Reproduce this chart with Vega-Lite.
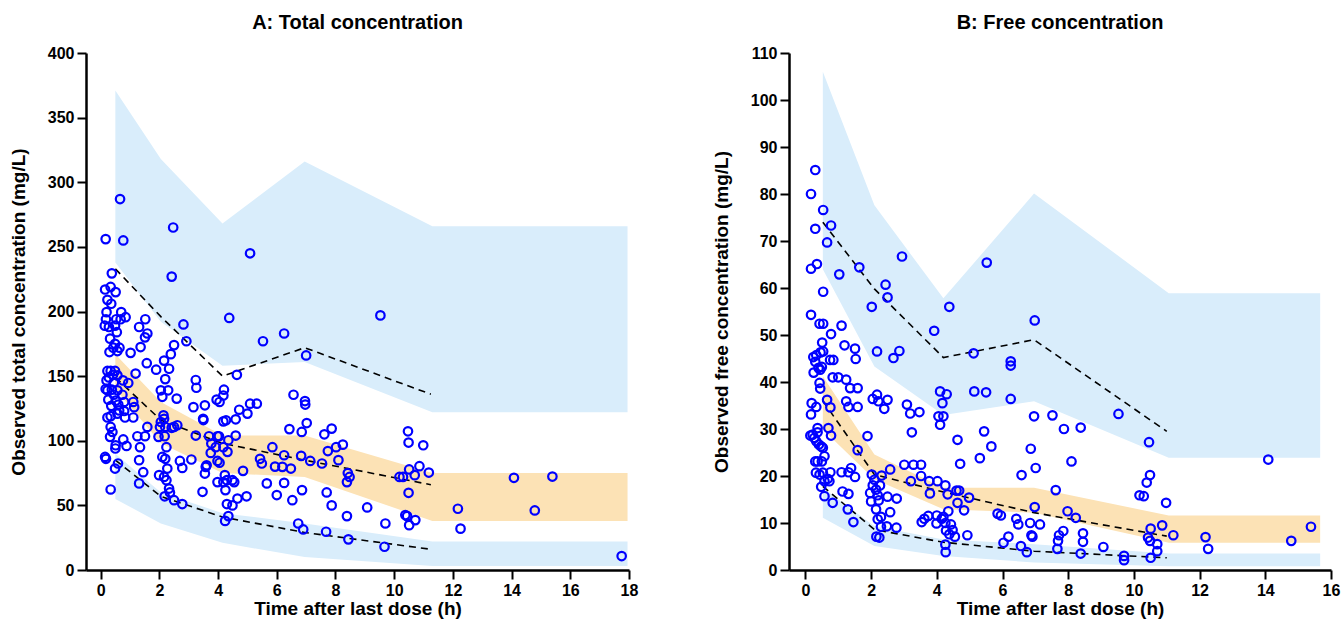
{
"$schema": "https://vega.github.io/schema/vega-lite/v6.json",
"background": "white",
"padding": {"left": 9, "top": 13, "right": 5, "bottom": 5},
"bounds": "flush",
"spacing": 160,
"config": {
 "view": {"stroke": null},
 "font": "Liberation Sans",
 "axis": {"grid": false, "domainColor": "black", "domainWidth": 2.5, "tickColor": "black", "tickWidth": 2, "tickSize": 9, "labelFont": "Liberation Sans", "labelFontSize": 16, "labelFontWeight": "bold", "labelColor": "black", "labelPadding": 3, "labelFlush": false, "labelOverlap": false, "titleFont": "Liberation Sans", "titleFontSize": 19, "titleFontWeight": "bold", "titleColor": "black"},
 "axisY": {"titlePadding": 19},
 "axisX": {"titlePadding": 1},
 "title": {"fontSize": 20, "fontWeight": "bold", "font": "Liberation Sans", "color": "black", "offset": 12, "anchor": "middle"}
},
"datasets": {
 "totalBands": [
  {"band": "upper", "kind": "PI", "x": 0.5, "lo": 238, "hi": 371},
  {"band": "upper", "kind": "PI", "x": 2.05, "lo": 192, "hi": 318},
  {"band": "upper", "kind": "PI", "x": 4.15, "lo": 158, "hi": 268},
  {"band": "upper", "kind": "PI", "x": 6.95, "lo": 161, "hi": 316},
  {"band": "upper", "kind": "PI", "x": 11.3, "lo": 122, "hi": 266},
  {"band": "upper", "kind": "PI", "x": 17.95, "lo": 122, "hi": 266},
  {"band": "mid", "kind": "median", "x": 0.5, "lo": 140, "hi": 167},
  {"band": "mid", "kind": "median", "x": 2.05, "lo": 98, "hi": 130},
  {"band": "mid", "kind": "median", "x": 4.15, "lo": 75, "hi": 104},
  {"band": "mid", "kind": "median", "x": 6.95, "lo": 72, "hi": 104},
  {"band": "mid", "kind": "median", "x": 11.3, "lo": 38, "hi": 75},
  {"band": "mid", "kind": "median", "x": 17.95, "lo": 38, "hi": 75},
  {"band": "lower", "kind": "PI", "x": 0.5, "lo": 55, "hi": 90},
  {"band": "lower", "kind": "PI", "x": 2.05, "lo": 36, "hi": 60},
  {"band": "lower", "kind": "PI", "x": 4.15, "lo": 21, "hi": 44},
  {"band": "lower", "kind": "PI", "x": 6.95, "lo": 10, "hi": 36},
  {"band": "lower", "kind": "PI", "x": 11.3, "lo": 3, "hi": 22},
  {"band": "lower", "kind": "PI", "x": 17.95, "lo": 3, "hi": 22}
 ],
 "totalLines": [
  {"pct": "p95", "x": 0.5, "y": 233}, {"pct": "p95", "x": 2.05, "y": 196}, {"pct": "p95", "x": 4.15, "y": 150}, {"pct": "p95", "x": 6.95, "y": 172}, {"pct": "p95", "x": 11.25, "y": 136},
  {"pct": "p50", "x": 0.5, "y": 149}, {"pct": "p50", "x": 2.05, "y": 116}, {"pct": "p50", "x": 4.15, "y": 98}, {"pct": "p50", "x": 6.95, "y": 85}, {"pct": "p50", "x": 11.25, "y": 66},
  {"pct": "p05", "x": 0.5, "y": 85}, {"pct": "p05", "x": 2.05, "y": 57}, {"pct": "p05", "x": 4.15, "y": 41}, {"pct": "p05", "x": 6.95, "y": 29}, {"pct": "p05", "x": 11.25, "y": 16}
 ],
 "freeBands": [
  {"band": "upper", "kind": "PI", "x": 0.53, "lo": 64, "hi": 106},
  {"band": "upper", "kind": "PI", "x": 2.1, "lo": 43.3, "hi": 77.6},
  {"band": "upper", "kind": "PI", "x": 4.2, "lo": 33, "hi": 57.8},
  {"band": "upper", "kind": "PI", "x": 6.96, "lo": 35.9, "hi": 80.1},
  {"band": "upper", "kind": "PI", "x": 11.06, "lo": 23.9, "hi": 58.9},
  {"band": "upper", "kind": "PI", "x": 15.67, "lo": 23.9, "hi": 58.9},
  {"band": "mid", "kind": "median", "x": 0.53, "lo": 29.9, "hi": 41.2},
  {"band": "mid", "kind": "median", "x": 2.1, "lo": 19.3, "hi": 24.6},
  {"band": "mid", "kind": "median", "x": 4.2, "lo": 12.9, "hi": 17.5},
  {"band": "mid", "kind": "median", "x": 6.96, "lo": 12.2, "hi": 17.5},
  {"band": "mid", "kind": "median", "x": 11.06, "lo": 5.8, "hi": 11.6},
  {"band": "mid", "kind": "median", "x": 15.67, "lo": 5.8, "hi": 11.6},
  {"band": "lower", "kind": "PI", "x": 0.53, "lo": 11.1, "hi": 17.5},
  {"band": "lower", "kind": "PI", "x": 2.1, "lo": 5.1, "hi": 9.3},
  {"band": "lower", "kind": "PI", "x": 4.2, "lo": 3.0, "hi": 6.5},
  {"band": "lower", "kind": "PI", "x": 6.96, "lo": 1.6, "hi": 5.5},
  {"band": "lower", "kind": "PI", "x": 11.06, "lo": 0.8, "hi": 3.5},
  {"band": "lower", "kind": "PI", "x": 15.67, "lo": 0.8, "hi": 3.5}
 ],
 "freeLines": [
  {"pct": "p95", "x": 0.53, "y": 74}, {"pct": "p95", "x": 2.1, "y": 59.8}, {"pct": "p95", "x": 4.2, "y": 45.2}, {"pct": "p95", "x": 6.96, "y": 49}, {"pct": "p95", "x": 11.0, "y": 29.5},
  {"pct": "p50", "x": 0.53, "y": 36}, {"pct": "p50", "x": 2.1, "y": 20.3}, {"pct": "p50", "x": 4.2, "y": 16.6}, {"pct": "p50", "x": 6.96, "y": 12.2}, {"pct": "p50", "x": 11.0, "y": 7.2},
  {"pct": "p05", "x": 0.53, "y": 17.8}, {"pct": "p05", "x": 2.1, "y": 8.6}, {"pct": "p05", "x": 4.2, "y": 5.9}, {"pct": "p05", "x": 6.96, "y": 4.0}, {"pct": "p05", "x": 11.0, "y": 2.6}
 ],
 "totalPts": [
  {"x":0.17,"y":256},{"x":0.66,"y":287},{"x":0.77,"y":255},{"x":2.47,"y":265},{"x":2.42,"y":227},{"x":5.09,"y":245},{"x":0.38,"y":229.5},{"x":0.15,"y":217},{"x":0.34,"y":219},{"x":0.51,"y":215},{"x":0.23,"y":209},{"x":0.36,"y":206},
  {"x":0.2,"y":199.5},{"x":0.18,"y":194},{"x":0.14,"y":189},{"x":0.28,"y":188},{"x":0.49,"y":189},{"x":0.53,"y":194},{"x":0.7,"y":199.5},{"x":0.68,"y":194},{"x":0.85,"y":195.6},{"x":0.55,"y":184},{"x":0.32,"y":179},{"x":0.49,"y":175},{"x":0.43,"y":172},{"x":0.64,"y":172},{"x":0.3,"y":168.6},{"x":0.57,"y":169.4},{"x":1.02,"y":168},{"x":0.23,"y":154},{"x":0.34,"y":154},{"x":0.49,"y":154},{"x":0.42,"y":151},{"x":0.28,"y":149},{"x":0.57,"y":150.6},{"x":0.2,"y":146.7},{"x":0.45,"y":145},{"x":0.76,"y":146.7},{"x":0.94,"y":144.7},{"x":0.23,"y":139},{"x":0.38,"y":139.5},{"x":0.57,"y":139},{"x":0.17,"y":140},{"x":0.45,"y":135.6},{"x":0.74,"y":135.6},{"x":0.26,"y":131.8},{"x":0.51,"y":131},{"x":0.8,"y":130},{"x":0.36,"y":127},{"x":0.6,"y":128},{"x":1.11,"y":130},{"x":0.63,"y":123.5},{"x":0.8,"y":123},{"x":0.57,"y":121},{"x":0.23,"y":118},{"x":0.34,"y":119},{"x":0.83,"y":118},{"x":1.11,"y":118},{"x":0.34,"y":110.7},{"x":0.4,"y":106.8},{"x":0.32,"y":103},{"x":0.51,"y":96.5},{"x":0.5,"y":94},{"x":0.77,"y":101},{"x":0.88,"y":96},{"x":0.15,"y":87.5},{"x":0.18,"y":86},{"x":0.59,"y":82.4},{"x":0.49,"y":78.5},{"x":0.34,"y":62.3},
  {"x":1.31,"y":188},{"x":1.52,"y":194},{"x":1.51,"y":180},{"x":1.59,"y":183},{"x":1.36,"y":172.5},{"x":1.57,"y":160},{"x":1.89,"y":155},{"x":1.19,"y":152},{"x":1.25,"y":103.5},{"x":1.51,"y":103.5},{"x":1.34,"y":95},{"x":1.31,"y":85},{"x":1.45,"y":75.7},{"x":1.31,"y":67},{"x":1.59,"y":110.7},{"x":1.14,"y":126},
  {"x":1.97,"y":103},{"x":2.02,"y":110.7},{"x":2.05,"y":114.5},{"x":2.14,"y":119.7},{"x":2.16,"y":117},{"x":2.18,"y":103.5},{"x":2.2,"y":110.7},{"x":2.24,"y":95},{"x":2.1,"y":87.5},{"x":2.2,"y":86},{"x":2.27,"y":78.5},{"x":1.99,"y":73.4},{"x":2.16,"y":72},{"x":2.24,"y":69.5},{"x":2.33,"y":63},{"x":2.36,"y":60},{"x":2.18,"y":57},{"x":2.5,"y":54},{"x":2.78,"y":51},{"x":2.05,"y":139},{"x":2.3,"y":139},{"x":2.1,"y":134},{"x":2.2,"y":147.7},{"x":2.16,"y":162},{"x":2.33,"y":155.7},{"x":2.39,"y":167},{"x":2.5,"y":174},{"x":2.82,"y":190},{"x":2.92,"y":177},{"x":2.59,"y":132.6},{"x":2.5,"y":110.7},{"x":2.61,"y":112},{"x":2.42,"y":110},{"x":2.7,"y":84.4},{"x":2.78,"y":79},{"x":3.09,"y":85.5},
  {"x":3.16,"y":126},{"x":3.24,"y":147},{"x":3.26,"y":141},{"x":3.55,"y":127.4},{"x":3.49,"y":117},{"x":3.5,"y":116},{"x":3.24,"y":104},{"x":3.47,"y":60.5},{"x":3.55,"y":74.6},{"x":3.58,"y":79.8},{"x":3.61,"y":81},{"x":3.69,"y":103.5},{"x":3.77,"y":97.8},{"x":3.75,"y":90.6},{"x":3.92,"y":95},{"x":3.98,"y":103.5},{"x":4.03,"y":103.5},{"x":3.98,"y":84.4},{"x":4.05,"y":83},{"x":3.98,"y":68},{"x":4.18,"y":95},{"x":4.32,"y":91.4},{"x":4.35,"y":100.4},{"x":4.18,"y":68},{"x":4.23,"y":73.4},{"x":4.25,"y":61.8},{"x":4.3,"y":69.5},{"x":4.49,"y":69.5},{"x":4.55,"y":68},{"x":4.3,"y":51},{"x":4.49,"y":50},{"x":4.24,"y":38},{"x":4.35,"y":41.7},{"x":3.95,"y":131.8},{"x":4.05,"y":130},{"x":4.18,"y":135},{"x":4.2,"y":139.5},{"x":4.18,"y":115},{"x":4.27,"y":115.8},{"x":4.6,"y":104},{"x":4.64,"y":151},{"x":4.38,"y":195},{"x":4.72,"y":124},{"x":4.6,"y":116.6},{"x":4.66,"y":55.3},{"x":4.85,"y":76.7},{"x":4.97,"y":57},{"x":5.0,"y":121},{"x":5.09,"y":128.7},{"x":5.32,"y":128.7},{"x":5.53,"y":177},{"x":5.43,"y":86},{"x":5.49,"y":82.4},{"x":5.66,"y":67},{"x":5.85,"y":95},{"x":5.94,"y":80},{"x":6.0,"y":58},{"x":6.19,"y":79.8},{"x":6.25,"y":88.8},{"x":6.25,"y":67.4},{"x":6.25,"y":183},{"x":6.48,"y":78.5},{"x":6.53,"y":54},{"x":6.57,"y":135.6},{"x":6.43,"y":109},
  {"x":7.0,"y":166},{"x":6.96,"y":130.7},{"x":6.97,"y":128},{"x":7.02,"y":113.7},{"x":6.85,"y":106.8},{"x":6.83,"y":88.3},{"x":7.14,"y":84.4},{"x":6.86,"y":61.8},{"x":6.73,"y":36},{"x":6.9,"y":31.4},{"x":7.62,"y":105},{"x":7.87,"y":109.4},{"x":7.74,"y":92},{"x":8.02,"y":95},{"x":8.25,"y":97},{"x":8.1,"y":85},{"x":7.54,"y":82.4},{"x":7.7,"y":60},{"x":7.87,"y":50},{"x":7.68,"y":29.6},{"x":8.42,"y":75},{"x":8.48,"y":72},{"x":8.39,"y":68},{"x":8.39,"y":41.7},{"x":8.44,"y":23.7},
  {"x":9.53,"y":197},{"x":9.08,"y":48.4},{"x":9.7,"y":36},{"x":9.67,"y":18},{"x":10.47,"y":107.3},{"x":10.49,"y":98.6},{"x":10.99,"y":96.5},{"x":10.86,"y":80.3},{"x":11.18,"y":75.4},{"x":10.51,"y":77.8},{"x":10.7,"y":73.4},{"x":10.18,"y":72},{"x":10.3,"y":72},{"x":10.49,"y":59.7},{"x":10.38,"y":42.5},{"x":10.44,"y":41.7},{"x":10.72,"y":38.6},{"x":10.51,"y":34.7},{"x":12.17,"y":47.4},{"x":12.26,"y":32},{"x":14.08,"y":71.3},{"x":14.79,"y":46.1},{"x":15.39,"y":72.3},{"x":17.75,"y":10.8}
 ],
 "freePts": [
  {"x":0.3,"y":85.1},{"x":0.17,"y":80},{"x":0.54,"y":76.6},{"x":0.3,"y":72.6},{"x":0.78,"y":73.3},{"x":0.66,"y":69.7},{"x":0.17,"y":64.1},{"x":0.35,"y":65.1},{"x":1.03,"y":62.9},{"x":1.64,"y":64.4},{"x":2.94,"y":66.7},{"x":5.52,"y":65.4},{"x":2.44,"y":60.7},{"x":2.5,"y":58},{"x":0.54,"y":59.2},{"x":2.02,"y":56},{"x":4.38,"y":56},
  {"x":0.17,"y":54.3},{"x":0.43,"y":52.4},{"x":0.54,"y":52.4},{"x":1.1,"y":52},{"x":0.78,"y":50.2},{"x":0.51,"y":48.4},{"x":1.19,"y":47.8},{"x":1.51,"y":47.1},{"x":1.53,"y":44.9},{"x":2.18,"y":46.5},{"x":2.68,"y":45.1},{"x":2.86,"y":46.6},{"x":3.92,"y":50.9},{"x":5.12,"y":46.1},{"x":6.98,"y":53.1},{"x":6.25,"y":44.4},{"x":6.25,"y":43.5},{"x":6.25,"y":36.4},{"x":5.14,"y":38},{"x":5.5,"y":37.8},{"x":4.1,"y":38},{"x":4.3,"y":37.4},{"x":4.17,"y":35.5},{"x":4.05,"y":32.7},{"x":4.2,"y":32.7},{"x":4.1,"y":30.9},{"x":6.96,"y":32.7},{"x":4.63,"y":27.7},{"x":5.44,"y":29.5},{"x":4.71,"y":22.6},{"x":5.31,"y":23.8},{"x":5.66,"y":26.3},{"x":6.86,"y":25.8},{"x":7.01,"y":21.7},{"x":6.58,"y":20.2},
  {"x":0.24,"y":45.3},{"x":0.33,"y":45.7},{"x":0.46,"y":46.3},{"x":0.54,"y":46.5},{"x":0.3,"y":44.3},{"x":0.4,"y":43},{"x":0.5,"y":43.2},{"x":0.25,"y":42},{"x":0.45,"y":42.6},{"x":0.43,"y":39.8},{"x":0.45,"y":38.6},{"x":0.75,"y":44.7},{"x":0.85,"y":44.7},{"x":0.83,"y":41},{"x":1.0,"y":41},{"x":0.19,"y":35.5},{"x":0.33,"y":34.7},{"x":0.17,"y":33.1},{"x":0.66,"y":36.2},{"x":0.76,"y":34.6},{"x":0.7,"y":30.2},{"x":0.37,"y":30.2},{"x":0.37,"y":29.3},{"x":0.15,"y":28.6},{"x":0.22,"y":28.8},{"x":0.27,"y":28.1},{"x":0.33,"y":27.4},{"x":0.41,"y":26.7},{"x":0.48,"y":26.3},{"x":0.53,"y":26},{"x":0.78,"y":28.6},{"x":0.3,"y":23.1},{"x":0.37,"y":23.1},{"x":0.5,"y":23.1},{"x":0.58,"y":24.2},{"x":0.32,"y":20.7},{"x":0.43,"y":20.3},{"x":0.53,"y":20.7},{"x":0.76,"y":20.8},{"x":0.68,"y":19.4},{"x":0.58,"y":18.9},{"x":0.73,"y":18.9},{"x":0.48,"y":17.7},{"x":0.58,"y":15.7},{"x":0.83,"y":14.3},
  {"x":1.24,"y":40.5},{"x":1.24,"y":35.9},{"x":1.31,"y":34.7},{"x":1.59,"y":38.7},{"x":1.36,"y":38.7},{"x":1.59,"y":34.7},{"x":1.1,"y":20.8},{"x":1.31,"y":20.8},{"x":1.39,"y":21.7},{"x":1.51,"y":19.8},{"x":1.13,"y":16.7},{"x":1.31,"y":16.2},{"x":1.29,"y":12.9},{"x":1.46,"y":10.2},{"x":1.89,"y":28.5},{"x":1.59,"y":25.5},{"x":2.02,"y":20.3},{"x":1.97,"y":16.4},{"x":2.0,"y":14.6},{"x":2.05,"y":18},{"x":2.1,"y":19.2},{"x":2.15,"y":17.1},{"x":2.27,"y":18},{"x":2.32,"y":20.1},{"x":2.2,"y":15.9},{"x":2.23,"y":14.8},{"x":2.15,"y":12.9},{"x":2.2,"y":10.8},{"x":2.3,"y":11.3},{"x":2.16,"y":7.1},{"x":2.25,"y":6.9},{"x":2.3,"y":9.2},{"x":2.48,"y":9.3},{"x":2.58,"y":12.3},{"x":2.5,"y":15.6},{"x":2.78,"y":15.2},{"x":2.58,"y":21.4},{"x":2.77,"y":9.0},{"x":3.09,"y":35.2},{"x":3.19,"y":33.3},{"x":3.47,"y":33.6},{"x":3.24,"y":29.3},{"x":3.01,"y":22.4},{"x":3.29,"y":22.4},{"x":3.52,"y":22.4},{"x":3.21,"y":18.9},{"x":3.52,"y":20},{"x":3.77,"y":18.9},{"x":3.79,"y":16.3},{"x":4.02,"y":18.9},{"x":4.26,"y":18},{"x":4.33,"y":16.1},{"x":4.6,"y":16.9},{"x":4.68,"y":16.9},{"x":4.98,"y":15.4},{"x":4.63,"y":14.3},{"x":4.83,"y":12.7},{"x":3.54,"y":10.2},{"x":3.62,"y":10.9},{"x":3.74,"y":11.5},{"x":4.0,"y":11.6},{"x":4.2,"y":11.3},{"x":4.35,"y":12.5},{"x":4.15,"y":10.9},{"x":4.26,"y":10},{"x":4.43,"y":9.7},{"x":3.99,"y":9.9},{"x":4.28,"y":8.4},{"x":4.48,"y":8.5},{"x":4.38,"y":7.6},{"x":4.55,"y":7.1},{"x":4.26,"y":5.4},{"x":4.27,"y":3.8},{"x":4.93,"y":7.4},{"x":5.85,"y":12},{"x":5.95,"y":11.6},{"x":6.42,"y":10.9},{"x":6.48,"y":9.7},{"x":6.03,"y":5.8},{"x":6.18,"y":7.1},{"x":6.56,"y":5.1},{"x":6.74,"y":3.8},{"x":6.84,"y":10},{"x":6.88,"y":7.4},{"x":6.91,"y":7.1},{"x":7.14,"y":9.7},{"x":6.98,"y":13.4},
  {"x":2.05,"y":36.4},{"x":2.18,"y":37.3},{"x":2.22,"y":35.9},{"x":2.4,"y":34.3},{"x":2.5,"y":36.2},
  {"x":7.52,"y":32.9},{"x":7.87,"y":30.0},{"x":8.38,"y":30.3},{"x":9.53,"y":33.2},{"x":10.46,"y":27.2},{"x":8.1,"y":23.1},{"x":10.49,"y":20.2},{"x":10.39,"y":18.6},{"x":10.17,"y":15.9},{"x":10.3,"y":15.7},{"x":10.98,"y":14.3},{"x":7.62,"y":17},{"x":7.98,"y":12.5},{"x":8.23,"y":11.1},{"x":10.86,"y":9.5},{"x":10.51,"y":8.8},{"x":11.2,"y":7.4},{"x":12.18,"y":7.0},{"x":12.26,"y":4.5},{"x":14.09,"y":23.5},{"x":14.79,"y":6.2},{"x":15.39,"y":9.2},{"x":7.72,"y":7.4},{"x":7.85,"y":8.3},{"x":7.69,"y":6.2},{"x":7.67,"y":4.5},{"x":8.45,"y":7.8},{"x":8.45,"y":6.0},{"x":8.38,"y":3.5},{"x":9.07,"y":4.9},{"x":9.7,"y":3.0},{"x":9.7,"y":2.1},{"x":10.43,"y":6.9},{"x":10.49,"y":6.2},{"x":10.71,"y":5.5},{"x":10.71,"y":4.0},{"x":10.51,"y":2.6}
 ]
},
"hconcat": [
 {
  "width": 543, "height": 517,
  "title": {"text": "A: Total concentration"},
  "layer": [
   {"data": {"name": "totalBands"}, "mark": {"type": "area", "opacity": 1},
    "encoding": {
     "x": {"field": "x", "type": "quantitative", "title": "Time after last dose (h)", "scale": {"domain": [-0.5, 18], "nice": false, "zero": false}, "axis": {"values": [0,2,4,6,8,10,12,14,16,18]}},
     "y": {"field": "lo", "type": "quantitative", "title": "Observed total concentration (mg/L)", "scale": {"domain": [0, 400], "nice": false}, "axis": {"values": [0,50,100,150,200,250,300,350,400]}},
     "y2": {"field": "hi"},
     "color": {"field": "kind", "type": "nominal", "scale": {"domain": ["PI", "median"], "range": ["#D9EDFB", "#FCE2B5"]}, "legend": null},
     "detail": {"field": "band"}
    }},
   {"data": {"name": "totalLines"}, "mark": {"type": "line", "color": "black", "strokeDash": [7, 5], "strokeWidth": 1.6},
    "encoding": {
     "x": {"field": "x", "type": "quantitative", "title": "Time after last dose (h)"},
     "y": {"field": "y", "type": "quantitative", "title": "Observed total concentration (mg/L)"},
     "detail": {"field": "pct"}
    }},
   {"data": {"name": "totalPts"}, "mark": {"type": "point", "shape": "circle", "filled": false, "color": "#0000FF", "strokeWidth": 2.2, "size": 72, "opacity": 1},
    "encoding": {
     "x": {"field": "x", "type": "quantitative", "title": "Time after last dose (h)"},
     "y": {"field": "y", "type": "quantitative", "title": "Observed total concentration (mg/L)"}
    }}
  ]
 },
 {
  "width": 542, "height": 517,
  "title": {"text": "B: Free concentration"},
  "layer": [
   {"data": {"name": "freeBands"}, "mark": {"type": "area", "opacity": 1},
    "encoding": {
     "x": {"field": "x", "type": "quantitative", "title": "Time after last dose (h)", "scale": {"domain": [-0.5, 16], "nice": false, "zero": false}, "axis": {"values": [0,2,4,6,8,10,12,14,16]}},
     "y": {"field": "lo", "type": "quantitative", "title": "Observed free concentration (mg/L)", "scale": {"domain": [0, 110], "nice": false}, "axis": {"values": [0,10,20,30,40,50,60,70,80,90,100,110]}},
     "y2": {"field": "hi"},
     "color": {"field": "kind", "type": "nominal", "scale": {"domain": ["PI", "median"], "range": ["#D9EDFB", "#FCE2B5"]}, "legend": null},
     "detail": {"field": "band"}
    }},
   {"data": {"name": "freeLines"}, "mark": {"type": "line", "color": "black", "strokeDash": [7, 5], "strokeWidth": 1.6},
    "encoding": {
     "x": {"field": "x", "type": "quantitative", "title": "Time after last dose (h)"},
     "y": {"field": "y", "type": "quantitative", "title": "Observed free concentration (mg/L)"},
     "detail": {"field": "pct"}
    }},
   {"data": {"name": "freePts"}, "mark": {"type": "point", "shape": "circle", "filled": false, "color": "#0000FF", "strokeWidth": 2.2, "size": 72, "opacity": 1},
    "encoding": {
     "x": {"field": "x", "type": "quantitative", "title": "Time after last dose (h)"},
     "y": {"field": "y", "type": "quantitative", "title": "Observed free concentration (mg/L)"}
    }}
  ]
 }
]
}
